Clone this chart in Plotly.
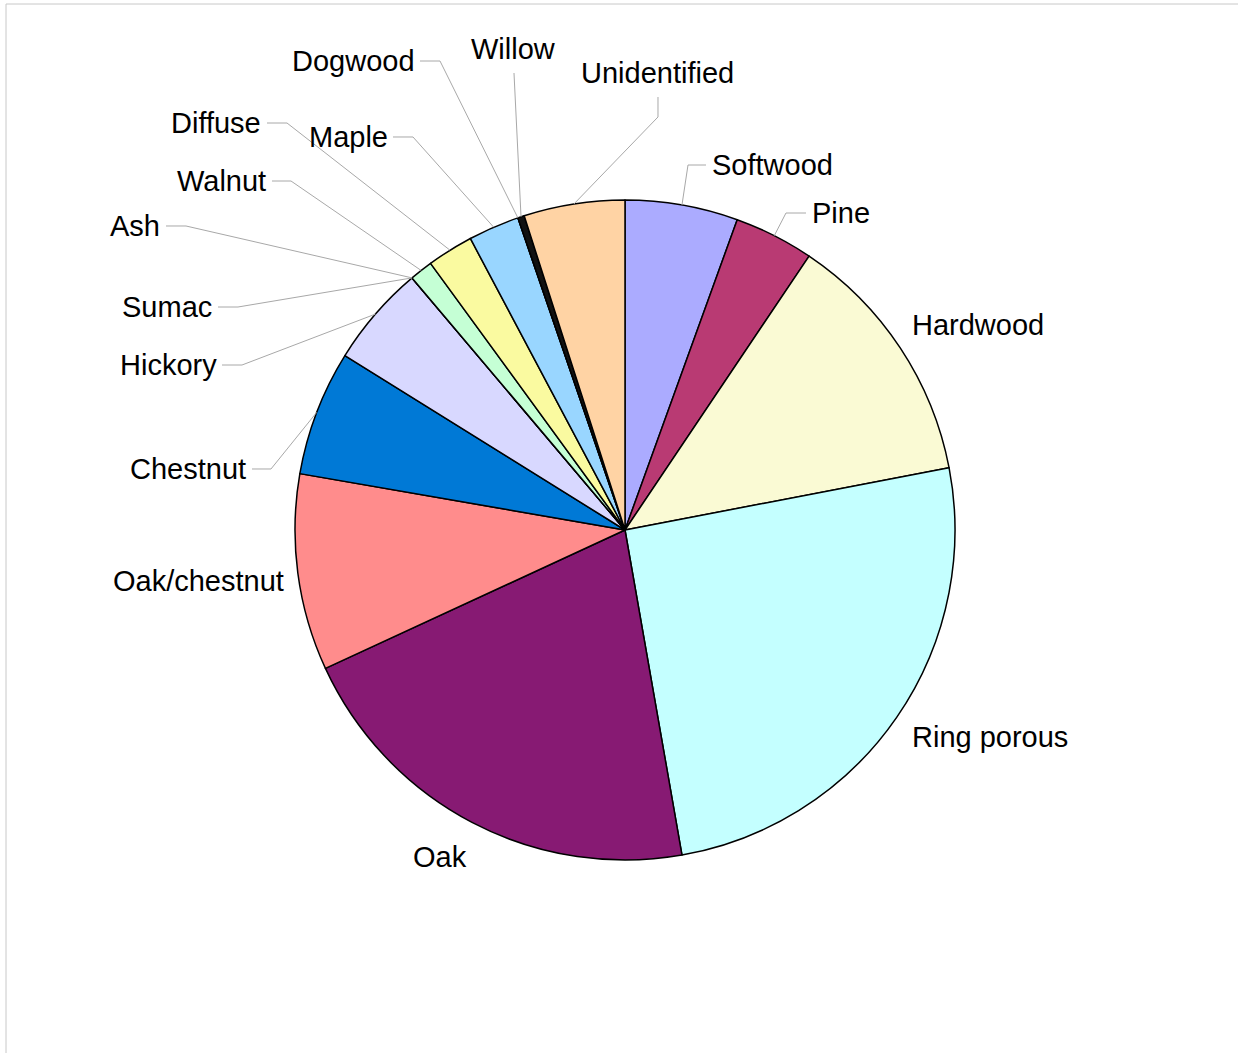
import math
import plotly.graph_objects as go

# ---------------- data ----------------
categories = ["Softwood", "Pine", "Hardwood", "Ring porous", "Oak", "Oak/chestnut",
              "Chestnut", "Hickory", "Sumac", "Ash", "Walnut", "Diffuse", "Maple",
              "Dogwood", "Willow", "Unidentified"]
values = [19, 13.4, 43.2, 86.9, 71.8, 33.1, 21.1, 17.1, 0, 0, 3.9, 7.8, 8.6, 0, 1.1, 17]
colors = ["#ABABFF", "#B93A73", "#FAFAD4", "#C4FFFF", "#871A73", "#FF8C8C",
          "#0079D6", "#D8D8FF", "#C5FFD5", "#C5FFD5", "#C5FFD5", "#FAFAA0",
          "#99D6FF", "#99D6FF", "#111111", "#FFD3A4"]

# ---------------- layout (pixels) ----------------
W, H = 1239, 1053
CX, CY, R = 625, 530, 330

# label placement: text x, text y, xanchor, leader-line elbow points (before anchor on arc)
label_pos = {
    "Softwood":     (710, 165, "left",   [(706, 165), (688, 165)]),
    "Pine":         (810, 213, "left",   [(806, 213), (786, 213)]),
    "Hardwood":     (910, 325, "left",   None),
    "Ring porous":  (910, 737, "left",   None),
    "Oak":          (440, 857, "center", None),
    "Oak/chestnut": (286, 581, "right",  None),
    "Chestnut":     (248, 469, "right",  [(252, 469), (271, 469)]),
    "Hickory":      (219, 365, "right",  [(222, 365), (242, 365)]),
    "Sumac":        (214, 307, "right",  [(218, 307), (238, 307)]),
    "Ash":          (162, 226, "right",  [(166, 226), (186, 226)]),
    "Walnut":       (268, 181, "right",  [(272, 181), (291, 181)]),
    "Diffuse":      (263, 123, "right",  [(267, 123), (287, 123)]),
    "Maple":        (390, 137, "right",  [(393, 137), (413, 137)]),
    "Dogwood":      (417, 61,  "right",  [(420, 61), (440, 61)]),
    "Willow":       (513, 49,  "center", [(514, 73)]),
    "Unidentified": (657, 73,  "center", [(658, 97), (658, 117)]),
}

def px(x):
    return x / W

def py(y):
    return 1 - y / H

fig = go.Figure(go.Pie(
    labels=categories,
    values=values,
    sort=False,
    direction="clockwise",
    rotation=0,
    textinfo="none",
    hoverinfo="label+value+percent",
    marker=dict(colors=colors, line=dict(color="#000000", width=1.5)),
    domain=dict(x=[px(CX - R), px(CX + R)], y=[py(CY + R), py(CY - R)]),
))

total = sum(values)
cum = 0
shapes = []
annotations = []
for cat, v in zip(categories, values):
    mid = math.radians((cum + v / 2) / total * 360)
    cum += v
    ax = CX + R * math.sin(mid)
    ay = CY - R * math.cos(mid)
    tx, ty, anc, elbow = label_pos[cat]
    annotations.append(dict(
        x=px(tx), y=py(ty), xref="paper", yref="paper", text=cat,
        xanchor=anc, yanchor="middle", showarrow=False,
        font=dict(family="Liberation Sans, Arial, sans-serif", size=29, color="#000000"),
    ))
    if elbow:
        pts = elbow + [(ax, ay)]
        path = "M " + " L ".join(f"{px(x):.5f},{py(y):.5f}" for x, y in pts)
        shapes.append(dict(type="path", path=path, xref="paper", yref="paper",
                           line=dict(color="#A8A8A8", width=1)))

# chart frame (top and left edges)
shapes.append(dict(type="line", xref="paper", yref="paper",
                   x0=px(6), y0=py(4), x1=px(1238), y1=py(4),
                   line=dict(color="#C8C8C8", width=1)))
shapes.append(dict(type="line", xref="paper", yref="paper",
                   x0=px(6), y0=py(4), x1=px(6), y1=py(1053),
                   line=dict(color="#C8C8C8", width=1)))

fig.update_layout(
    width=W, height=H,
    margin=dict(l=0, r=0, t=0, b=0),
    paper_bgcolor="#FFFFFF",
    plot_bgcolor="#FFFFFF",
    showlegend=False,
    shapes=shapes,
    annotations=annotations,
)

fig.write_html("out.html",
               config={"displayModeBar": False},
               post_script="document.body.style.margin='0';document.body.style.overflow='hidden';")
